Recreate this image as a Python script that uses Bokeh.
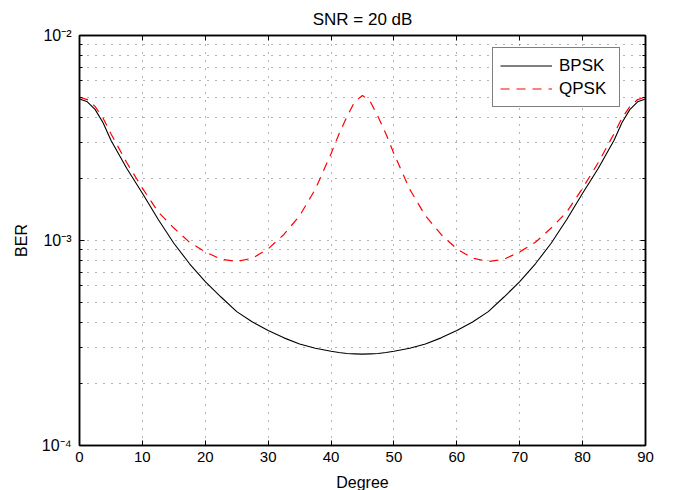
from bokeh.plotting import figure
from bokeh.models import (FixedTicker, CustomJSTickFormatter, LinearAxis, LogAxis,
                          Legend, LegendItem)
from bokeh.embed import file_html
from bokeh.resources import INLINE

# ---- data ----
degree = [0, 1.25, 2.5, 3.75, 5, 7.5, 10, 12.5, 15, 17.5, 20, 22.5, 25, 27.5, 30,
          32.5, 35, 37.5, 40, 41.25, 42.5, 43.75, 45, 46.25, 47.5, 48.75, 50, 52.5,
          55, 57.5, 60, 62.5, 65, 67.5, 70, 72.5, 75, 77.5, 80, 82.5, 85, 86.25,
          87.5, 88.75, 90]
ber_bpsk = [4.9e-3, 4.75e-3, 4.35e-3, 3.75e-3, 3.08e-3, 2.25e-3, 1.7e-3, 1.27e-3, 9.7e-4,
            7.7e-4, 6.3e-4, 5.3e-4, 4.5e-4, 4.0e-4, 3.64e-4, 3.35e-4, 3.13e-4, 2.98e-4,
            2.88e-4, 2.84e-4, 2.81e-4, 2.8e-4, 2.79e-4, 2.8e-4, 2.81e-4, 2.84e-4,
            2.88e-4, 2.98e-4, 3.13e-4, 3.35e-4, 3.64e-4, 4.0e-4, 4.5e-4, 5.3e-4,
            6.3e-4, 7.7e-4, 9.7e-4, 1.27e-3, 1.7e-3, 2.25e-3, 3.08e-3, 3.75e-3,
            4.35e-3, 4.75e-3, 4.9e-3]
ber_qpsk = [5.0e-3, 4.87e-3, 4.5e-3, 3.95e-3, 3.32e-3, 2.4e-3, 1.8e-3, 1.38e-3, 1.15e-3,
            9.8e-4, 8.8e-4, 8.1e-4, 7.9e-4, 8.2e-4, 9.1e-4, 1.07e-3, 1.32e-3, 1.78e-3,
            2.65e-3, 3.3e-3, 4.0e-3, 4.75e-3, 5.1e-3, 4.75e-3, 4.0e-3, 3.3e-3, 2.65e-3,
            1.78e-3, 1.32e-3, 1.07e-3, 9.1e-4, 8.2e-4, 7.9e-4, 8.1e-4, 8.8e-4,
            9.8e-4, 1.15e-3, 1.38e-3, 1.8e-3, 2.4e-3, 3.32e-3, 3.95e-3, 4.5e-3,
            4.87e-3, 5.0e-3]
x_ticks = [0, 10, 20, 30, 40, 50, 60, 70, 80, 90]
y_major = [1e-4, 1e-3, 1e-2]
y_minor = [k * 10.0 ** e for e in (-4, -3) for k in range(2, 10)]
series_labels = ["BPSK", "QPSK"]
title_text = "SNR = 20 dB"
x_label = "Degree"
y_label = "BER"

FONT = "Liberation Sans"

p = figure(frame_width=566, frame_height=410, x_range=(0, 90), y_range=(1e-4, 1e-2),
           y_axis_type="log", output_backend="svg", toolbar_location=None,
           title=title_text, min_border_left=79, min_border_right=21,
           min_border_top=35, min_border_bottom=45)
p.background_fill_color = "white"
p.border_fill_color = "white"
p.outline_line_color = "black"
p.outline_line_width = 1.5

p.title.align = "center"
p.title.text_font = FONT
p.title.text_font_size = "17px"
p.title.text_font_style = "normal"
p.title.text_color = "black"
p.title.standoff = 14

sup = CustomJSTickFormatter(code="""
const m = {'-':'\u207b','0':'\u2070','1':'\u00b9','2':'\u00b2','3':'\u00b3','4':'\u2074',
           '5':'\u2075','6':'\u2076','7':'\u2077','8':'\u2078','9':'\u2079'};
const e = String(Math.round(Math.log10(tick)));
let s = '';
for (const c of e) { s += m[c]; }
return '10' + s;
""")

x_tk = FixedTicker(ticks=x_ticks)
y_tk = FixedTicker(ticks=y_major, minor_ticks=y_minor)

for ax in (p.xaxis[0], p.yaxis[0]):
    ax.major_label_text_font = FONT
    ax.major_label_text_font_size = "15px"
    ax.major_label_text_color = "black"
    ax.axis_label_text_font = FONT
    ax.axis_label_text_font_size = "16px"
    ax.axis_label_text_font_style = "normal"
    ax.axis_label_text_color = "black"
    ax.axis_line_width = 1.5
    ax.major_tick_in = 5
    ax.major_tick_out = 0
    ax.minor_tick_in = 3
    ax.minor_tick_out = 0

p.xaxis.ticker = x_tk
p.xaxis.minor_tick_line_color = None
p.xaxis.axis_label = x_label
p.xaxis.major_label_standoff = 6
p.xaxis.axis_label_standoff = 9

p.yaxis.ticker = y_tk
p.yaxis.formatter = sup
p.yaxis.major_label_text_font_size = "16px"
p.yaxis.axis_label = y_label
p.yaxis.major_label_standoff = 8
p.yaxis.axis_label_standoff = 9

blank = CustomJSTickFormatter(code="return '';")
top = LinearAxis(ticker=x_tk, formatter=blank, major_tick_in=5, major_tick_out=0,
                 minor_tick_line_color=None, axis_line_width=1.5,
                 major_label_text_font_size="1px", major_label_standoff=0)
right = LogAxis(ticker=y_tk, formatter=blank, major_tick_in=5, major_tick_out=0,
                minor_tick_in=3, minor_tick_out=0, axis_line_width=1.5,
                major_label_text_font_size="1px", major_label_standoff=0)
p.add_layout(top, "above")
p.add_layout(right, "right")

p.xgrid.ticker = x_tk
p.ygrid.ticker = y_tk
for g in (p.xgrid[0], p.ygrid[0]):
    g.grid_line_color = "black"
    g.grid_line_alpha = 0.6
    g.grid_line_dash = "1 7"
    g.grid_line_width = 1
p.ygrid.minor_grid_line_color = "black"
p.ygrid.minor_grid_line_alpha = 0.6
p.ygrid.minor_grid_line_dash = "1 7"

r1 = p.line(degree, ber_bpsk, line_color="black", line_width=1.1)
r2 = p.line(degree, ber_qpsk, line_color="#ff0000", line_width=1.2, line_dash="9 7")

legend = Legend(items=[LegendItem(label=series_labels[0], renderers=[r1]),
                       LegendItem(label=series_labels[1], renderers=[r2])],
                location=(413, 338))
legend.label_text_font = FONT
legend.label_text_font_size = "17px"
legend.label_text_color = "black"
legend.glyph_width = 52
legend.glyph_height = 21
legend.label_standoff = 7
legend.label_width = 53
legend.padding = 7
legend.spacing = 2
legend.border_line_color = "black"
legend.border_line_width = 1.2
legend.background_fill_alpha = 1
legend.margin = 0
p.add_layout(legend, "center")

open("out.html", "w").write(file_html(p, INLINE))
